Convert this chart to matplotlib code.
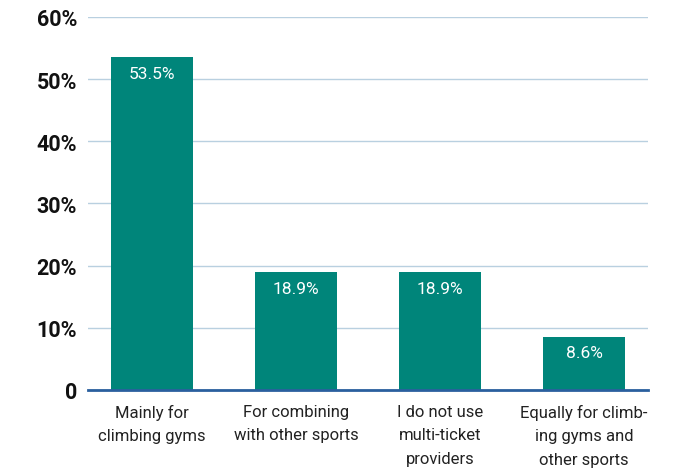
import matplotlib
matplotlib.use('Agg')
from matplotlib import pyplot as plt

categories = ['Mainly for\nclimbing gyms', 'For combining\nwith other sports',
              'I do not use\nmulti-ticket\nproviders', 'Equally for climb-\ning gyms and\nother sports']
shares = [53.5, 18.9, 18.9, 8.6]
yticks = [0, 10, 20, 30, 40, 50, 60]
ytick_labels = ['0', '10%', '20%', '30%', '40%', '50%', '60%']

plt.rcParams['font.family'] = ['Roboto', 'DejaVu Sans']

fig = plt.figure(figsize=(6.79, 4.77), dpi=100)
ax = fig.add_axes([0.1296, 0.1803, 0.8247, 0.782])

x = list(range(len(categories)))
bars = ax.bar(x, shares, width=0.57, color='#00857a', zorder=3)

for b, v in zip(bars, shares):
    ax.text(b.get_x() + b.get_width() / 2, v - 2.6, f'{v}%', ha='center', va='center',
            color='white', fontsize=12.5, zorder=4)

ax.set_xlim(-0.444, 3.444)
ax.set_ylim(0, 60)
ax.set_yticks(yticks)
ax.set_yticklabels(ytick_labels, fontsize=15.5, fontweight='bold', color='#111111')
ax.set_xticks(x)
ax.set_xticklabels(categories, fontsize=12, color='#222222', linespacing=1.7, va='top')
ax.tick_params(axis='both', length=0)
ax.tick_params(axis='y', pad=8)
ax.tick_params(axis='x', pad=10)

ax.grid(axis='y', color='#b9d0e0', linewidth=1, zorder=0)
for s in ['top', 'right', 'left']:
    ax.spines[s].set_visible(False)
ax.spines['bottom'].set_color('#2a5f9e')
ax.spines['bottom'].set_linewidth(2)
ax.spines['bottom'].set_zorder(5)

fig.savefig('out.png', dpi=100)
